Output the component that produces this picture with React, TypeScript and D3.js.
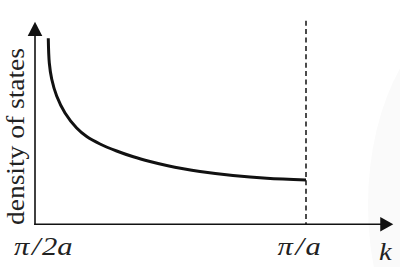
import React from "react";
import * as d3 from "d3";

// k in units of pi/a, density of states in arbitrary units
const kValues = [0.5245, 0.5264, 0.5308, 0.54, 0.5554, 0.5769, 0.5954, 0.62, 0.6507, 0.6814, 0.7122, 0.743, 0.7736, 0.8044, 0.8653, 0.9275, 1.0];
const dosValues = [9.3, 8.065, 7.265, 6.415, 5.565, 4.815, 4.39, 4.015, 3.665, 3.375, 3.14, 2.94, 2.775, 2.64, 2.44, 2.3, 2.215];
const xTickLabelParts = [
  ["π", "/", "2a"],
  ["π", "/", "a"],
];
const xTickValues = [0.5, 1.0];
const yAxisLabel = "density of states";
const xAxisLabel = "k";

const W = 400;
const H = 267;

export default function App() {
  const x = d3.scaleLinear().domain([0.5, 1.0]).range([35, 306]);
  const y = d3.scaleLinear().domain([0, 10]).range([224.3, 24.3]);

  const data = kValues.map((k, i) => [k, dosValues[i]] as [number, number]);
  const line = d3
    .line<[number, number]>()
    .x((d) => x(d[0]))
    .y((d) => y(d[1]))
    .curve(d3.curveCatmullRom.alpha(0.5));

  const x0 = x(0.5);
  const y0 = y(0);
  const yTip = y(10.13);
  const xTip = x(1.161);
  const arrowLenY = 14.3;
  const arrowLenX = 13;
  const arrowHalf = 7.3;

  const font = "'Liberation Serif', 'Times New Roman', serif";
  const tickOffsets = [-21, -28.5];

  return (
    <svg
      width={W}
      height={H}
      viewBox={`0 0 ${W} ${H}`}
      style={{ position: "absolute", left: 0, top: 0, display: "block", background: "#fff" }}
    >
      <rect x={0} y={0} width={W} height={H} fill="#fff" />
      <ellipse cx={480} cy={205} rx={112} ry={195} fill="#fafafa" />

      {/* dashed line at pi/a */}
      <line
        x1={x(1.0)}
        x2={x(1.0)}
        y1={y(10.18)}
        y2={y0}
        stroke="#111"
        strokeWidth={1.5}
        strokeDasharray="5,3.4"
      />

      {/* axes */}
      <line x1={x0} x2={x0} y1={y0 + 0.8} y2={yTip + arrowLenY - 1} stroke="#111" strokeWidth={1.6} />
      <path
        d={`M${x0},${yTip} L${x0 - arrowHalf},${yTip + arrowLenY} L${x0 + arrowHalf},${yTip + arrowLenY} Z`}
        fill="#111"
      />
      <line x1={x0 - 0.8} x2={xTip - arrowLenX + 1} y1={y0} y2={y0} stroke="#111" strokeWidth={1.6} />
      <path
        d={`M${xTip},${y0} L${xTip - arrowLenX},${y0 - arrowHalf} L${xTip - arrowLenX},${y0 + arrowHalf} Z`}
        fill="#111"
      />

      {/* curve */}
      <path d={line(data) || ""} fill="none" stroke="#111" strokeWidth={3} strokeLinecap="butt" />

      {/* tick labels */}
      {xTickValues.map((v, i) => (
        <g key={i} transform={`translate(${x(v) + tickOffsets[i]},254.5) scale(1.2,1)`}>
          <text x={0} y={0} fontFamily={font} fontStyle="italic" fontSize={25.5} fill="#222">
            <tspan>{xTickLabelParts[i][0]}</tspan>
            <tspan dx={2.2}>{xTickLabelParts[i][1]}</tspan>
            <tspan dx={1.2}>{xTickLabelParts[i][2]}</tspan>
          </text>
        </g>
      ))}
      <g transform="translate(379,260) scale(1.1,1)">
        <text x={0} y={0} fontFamily={font} fontStyle="italic" fontSize={26} fill="#222">
          {xAxisLabel}
        </text>
      </g>

      {/* y label */}
      <text
        transform={`translate(23.5,225) rotate(-90)`}
        fontFamily={font}
        fontSize={25}
        fill="#222"
        textLength={177}
        lengthAdjust="spacingAndGlyphs"
      >
        {yAxisLabel}
      </text>
    </svg>
  );
}
